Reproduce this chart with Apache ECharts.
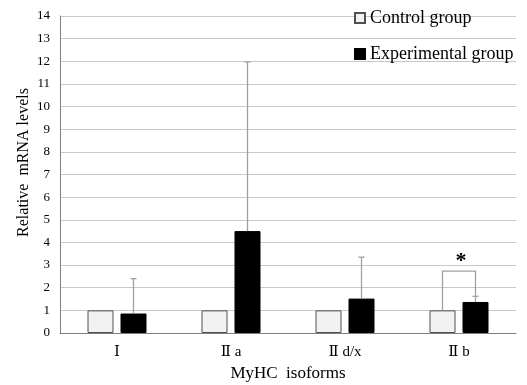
<!DOCTYPE html>
<html>
<head>
<meta charset="utf-8">
<script src="https://cdn.jsdelivr.net/npm/echarts@6/dist/echarts.min.js"></script>
<style>html,body{margin:0;padding:0;background:#fff;}#c{width:527px;height:385px;}</style>
</head>
<body>
<div id="c"></div>
<script>
const categories = ['Ⅰ', 'Ⅱ a', 'Ⅱ d/x', 'Ⅱ b'];
const controlValues = [1, 1, 1, 1];
const experimentalValues = [0.86, 4.5, 1.52, 1.37];
const experimentalUpper = [2.4, 11.97, 3.35, 1.62];
const yTicks = [0, 14, 1];
// significance bracket: [category index, control top, bracket top, experimental end]
const brackets = [[3, 1, 2.73, 1.65]];

const FONT = '"Liberation Serif", "DejaVu Serif", serif';
const BAR_W = 26, GAP = 7, OFF = (BAR_W + GAP) / 2;

const chart = echarts.init(document.getElementById('c'));
chart.setOption({
  animation: false,
  backgroundColor: '#fff',
  textStyle: { fontFamily: FONT, color: '#000' },
  grid: { left: 60, right: 11, top: 16, bottom: 52, containLabel: false, outerBoundsMode: 'none' },
  legend: {
    orient: 'vertical', left: 349, top: 4, itemGap: 18,
    itemWidth: 10, itemHeight: 10, icon: 'rect',
    textStyle: { fontFamily: FONT, fontSize: 18, color: '#000' },
    data: ['Control group', 'Experimental group']
  },
  xAxis: {
    type: 'category', data: categories,
    name: 'MyHC  isoforms', nameLocation: 'middle', nameGap: 30,
    nameTextStyle: { fontFamily: FONT, fontSize: 17, color: '#000' },
    axisLine: { lineStyle: { color: '#7f7f7f' } },
    axisTick: { show: false },
    axisLabel: { fontFamily: FONT, fontSize: 15, color: '#000', margin: 12 }
  },
  yAxis: {
    type: 'value', min: yTicks[0], max: yTicks[1], interval: yTicks[2],
    name: 'Relative  mRNA levels', nameLocation: 'middle', nameGap: 28, nameMoveOverlap: false,
    nameTextStyle: { fontFamily: FONT, fontSize: 16, color: '#000', padding: [0, 0, 0, 24] },
    axisLine: { show: true, lineStyle: { color: '#7f7f7f' } },
    axisTick: { show: false },
    axisLabel: { fontFamily: FONT, fontSize: 13, color: '#000', margin: 10 },
    splitLine: { lineStyle: { color: '#c8c8c8' } }
  },
  series: [
    {
      name: 'Control group', type: 'bar', data: controlValues,
      barWidth: BAR_W, barGap: (GAP / BAR_W * 100) + '%',
      itemStyle: { color: '#f2f2f2', borderColor: '#505050', borderWidth: 1 }
    },
    {
      name: 'Experimental group', type: 'bar', data: experimentalValues,
      barWidth: BAR_W,
      itemStyle: { color: '#000', borderColor: '#000', borderWidth: 1 }
    },
    {
      type: 'custom', name: 'err', silent: true, z: 5,
      data: experimentalValues.map((v, i) => [i, v, experimentalUpper[i]]),
      renderItem: function (params, api) {
        const lo = api.coord([api.value(0), api.value(1)]);
        const hi = api.coord([api.value(0), api.value(2)]);
        const x = lo[0] + OFF;
        return {
          type: 'group', children: [
            { type: 'line', shape: { x1: x, y1: lo[1], x2: x, y2: hi[1] }, style: { stroke: '#a0a0a0', lineWidth: 1.3 } },
            { type: 'line', shape: { x1: x - 3, y1: hi[1], x2: x + 3, y2: hi[1] }, style: { stroke: '#a0a0a0', lineWidth: 1.3 } }
          ]
        };
      }
    },
    {
      type: 'custom', name: 'sig', silent: true, z: 5,
      data: brackets,
      renderItem: function (params, api) {
        const c = api.coord([api.value(0), api.value(1)]);
        const t = api.coord([api.value(0), api.value(2)]);
        const e = api.coord([api.value(0), api.value(3)]);
        const x1 = c[0] - OFF, x2 = c[0] + OFF;
        return {
          type: 'group', children: [
            { type: 'polyline', shape: { points: [[x1, c[1]], [x1, t[1]], [x2, t[1]], [x2, e[1]]] }, style: { stroke: '#a0a0a0', lineWidth: 1.3, fill: null } },
            { type: 'text', style: { x: c[0] + 2, y: t[1] - 10, text: '*', fontSize: 22, fontWeight: 'bold', fontFamily: FONT, fill: '#000', align: 'center', verticalAlign: 'middle' } }
          ]
        };
      }
    }
  ]
});
</script>
</body>
</html>
